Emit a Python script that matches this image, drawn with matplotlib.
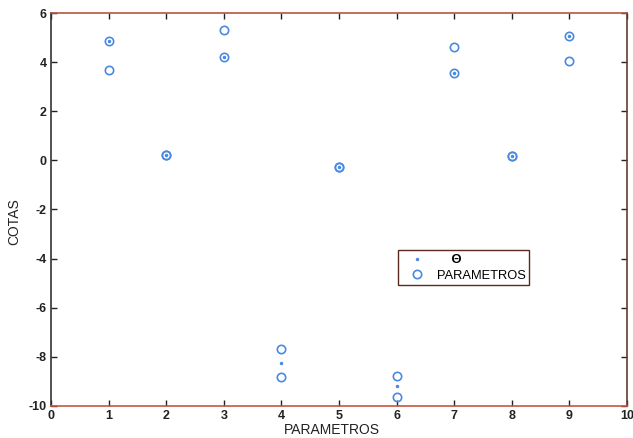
import matplotlib
matplotlib.use("Agg")
import matplotlib.pyplot as plt

# Data
params = [1, 2, 3, 4, 5, 6, 7, 8, 9]
estimate = [4.86, 0.20, 4.20, -8.23, -0.29, -9.20, 3.55, 0.19, 5.05]
upper = [4.86, 0.20, 5.29, -7.67, -0.29, -8.77, 4.63, 0.19, 5.05]
lower = [3.67, 0.20, 4.20, -8.81, -0.29, -9.62, 3.55, 0.19, 4.06]
xticks = [0, 1, 2, 3, 4, 5, 6, 7, 8, 9, 10]
yticks = [-10, -8, -6, -4, -2, 0, 2, 4, 6]

plt.rcParams['font.family'] = ['Liberation Sans', 'DejaVu Sans']
plt.rcParams['axes.unicode_minus'] = False

blue = '#4a8ae0'
fig = plt.figure(figsize=(6.33, 4.38), dpi=100)
ax = fig.add_axes([0.0806, 0.0731, 0.9099, 0.8972])

ax.plot(params, estimate, linestyle='none', marker='.', markersize=3, color=blue, label='    \u0398')
ax.plot(params + params, upper + lower, linestyle='none', marker='o', markersize=6,
        markerfacecolor='none', markeredgecolor=blue, markeredgewidth=1.2, label='PARAMETROS')

ax.set_xlim(0, 10)
ax.set_ylim(-10, 6)
ax.set_xticks(xticks)
ax.set_yticks(yticks)
ax.tick_params(direction='in', top=True, right=True, length=4, width=1, pad=3, colors='#222222')
for lab in ax.get_xticklabels() + ax.get_yticklabels():
    lab.set_fontweight('bold')
    lab.set_fontsize(9)
ax.spines['top'].set_color('#b5563f')
ax.spines['bottom'].set_color('#c8553f')
ax.spines['left'].set_color('#333333')
ax.spines['right'].set_color('#6b3a2e')
for s in ax.spines.values():
    s.set_linewidth(1.2)

ax.set_xlabel('PARAMETROS', fontsize=10, color='#222222')
ax.xaxis.set_label_coords(0.488, -0.043)
ax.set_ylabel('COTAS', fontsize=10, color='#222222')
ax.yaxis.set_label_coords(-0.052, 0.468)

leg = ax.legend(loc='upper left', bbox_to_anchor=(0.602, 0.396), fancybox=False,
                framealpha=1, edgecolor='#5a2a22', fontsize=9.3, handlelength=2.4,
                handletextpad=0.3, borderpad=0.3, labelspacing=0.25, borderaxespad=0)
leg.get_frame().set_linewidth(1.0)
leg.get_texts()[0].set_fontweight('bold')

fig.savefig('out.png', dpi=100)
